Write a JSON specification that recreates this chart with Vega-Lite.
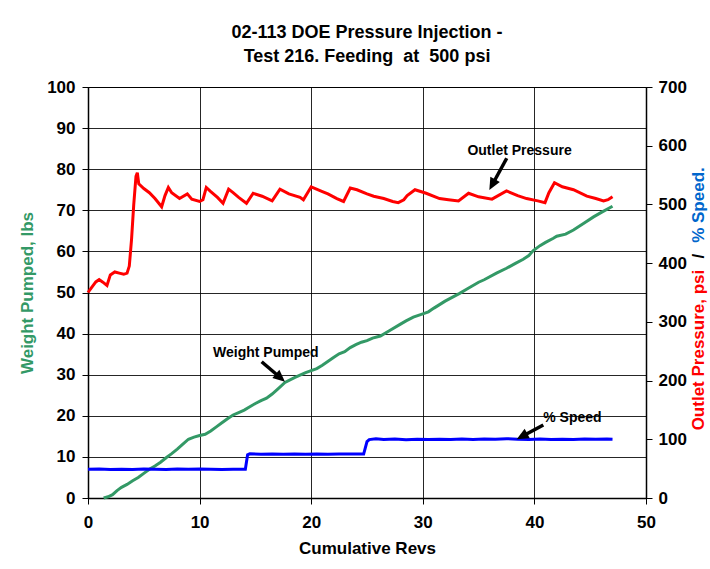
{
  "$schema": "https://vega.github.io/schema/vega-lite/v6.json",
  "width": 558,
  "height": 411,
  "autosize": {"type": "none"},
  "padding": {"left": 88, "top": 87, "right": 64, "bottom": 71},
  "background": "white",
  "config": {
    "font": "Liberation Sans",
    "view": {"stroke": "black", "strokeWidth": 1},
    "axis": {
      "labelFont": "Liberation Sans", "labelFontSize": 17, "labelFontWeight": "bold", "labelColor": "black",
      "titleFont": "Liberation Sans", "titleFontSize": 17, "titleFontWeight": "bold", "titleColor": "black",
      "domainColor": "black", "tickColor": "black", "gridColor": "black", "gridWidth": 1, "gridOpacity": 0.85,
      "tickSize": 6, "labelFlush": false, "labelOverlap": false
    }
  },
  "title": {
    "text": ["02-113 DOE Pressure Injection -", "Test 216. Feeding\u00a0\u00a0at\u00a0\u00a0500 psi"],
    "font": "Liberation Sans", "fontSize": 18, "fontWeight": "bold", "color": "black",
    "anchor": "middle", "lineHeight": 24, "offset": 12
  },
  "datasets": {
    "weight": [
      {"rev": 1.4, "lbs": 0}, {"rev": 1.8, "lbs": 0.3}, {"rev": 2.2, "lbs": 0.8}, {"rev": 2.6, "lbs": 1.8},
      {"rev": 3.0, "lbs": 2.6}, {"rev": 3.5, "lbs": 3.3}, {"rev": 4.0, "lbs": 4.2}, {"rev": 4.5, "lbs": 5.0},
      {"rev": 5.0, "lbs": 6.0}, {"rev": 5.5, "lbs": 7.0}, {"rev": 6.0, "lbs": 7.8}, {"rev": 6.5, "lbs": 8.7},
      {"rev": 7.0, "lbs": 9.8}, {"rev": 7.5, "lbs": 10.8}, {"rev": 8.0, "lbs": 11.9}, {"rev": 8.5, "lbs": 13.1},
      {"rev": 9.0, "lbs": 14.3}, {"rev": 9.5, "lbs": 14.8}, {"rev": 10.0, "lbs": 15.2}, {"rev": 10.5, "lbs": 15.5},
      {"rev": 11.0, "lbs": 16.3}, {"rev": 11.5, "lbs": 17.3}, {"rev": 12.0, "lbs": 18.3}, {"rev": 12.5, "lbs": 19.3},
      {"rev": 13.0, "lbs": 20.2}, {"rev": 13.5, "lbs": 20.8}, {"rev": 14.0, "lbs": 21.4}, {"rev": 14.5, "lbs": 22.2},
      {"rev": 15.0, "lbs": 23.0}, {"rev": 15.5, "lbs": 23.7}, {"rev": 16.0, "lbs": 24.3}, {"rev": 16.5, "lbs": 25.3},
      {"rev": 17.0, "lbs": 26.5}, {"rev": 17.65, "lbs": 28.1}, {"rev": 18.5, "lbs": 29.3}, {"rev": 19.0, "lbs": 29.9},
      {"rev": 19.5, "lbs": 30.5}, {"rev": 20.0, "lbs": 31.0}, {"rev": 20.5, "lbs": 31.5}, {"rev": 21.0, "lbs": 32.3},
      {"rev": 22.0, "lbs": 34.2}, {"rev": 22.5, "lbs": 35.1}, {"rev": 23.0, "lbs": 35.6}, {"rev": 23.5, "lbs": 36.6},
      {"rev": 24.0, "lbs": 37.3}, {"rev": 24.5, "lbs": 37.9}, {"rev": 25.0, "lbs": 38.3}, {"rev": 25.5, "lbs": 38.9},
      {"rev": 26.2, "lbs": 39.4}, {"rev": 27.0, "lbs": 40.7}, {"rev": 28.0, "lbs": 42.3}, {"rev": 28.5, "lbs": 43.1},
      {"rev": 29.15, "lbs": 44.0}, {"rev": 30.0, "lbs": 44.8}, {"rev": 30.5, "lbs": 45.3}, {"rev": 31.0, "lbs": 46.2},
      {"rev": 32.0, "lbs": 47.9}, {"rev": 33.3, "lbs": 49.8}, {"rev": 34.0, "lbs": 50.9}, {"rev": 35.0, "lbs": 52.5},
      {"rev": 35.5, "lbs": 53.1}, {"rev": 36.6, "lbs": 54.7}, {"rev": 37.5, "lbs": 55.9}, {"rev": 38.3, "lbs": 57.1},
      {"rev": 39.0, "lbs": 58.1}, {"rev": 39.5, "lbs": 59.0}, {"rev": 39.9, "lbs": 60.2}, {"rev": 40.5, "lbs": 61.4},
      {"rev": 41.0, "lbs": 62.2}, {"rev": 41.7, "lbs": 63.2}, {"rev": 42.0, "lbs": 63.7}, {"rev": 42.8, "lbs": 64.2},
      {"rev": 43.5, "lbs": 65.2}, {"rev": 44.5, "lbs": 67.0}, {"rev": 45.3, "lbs": 68.4}, {"rev": 46.0, "lbs": 69.5},
      {"rev": 47.0, "lbs": 71.0}
    ],
    "pressure": [
      {"rev": 0, "psi": 350}, {"rev": 0.3, "psi": 358}, {"rev": 0.7, "psi": 368}, {"rev": 1.0, "psi": 372},
      {"rev": 1.3, "psi": 368}, {"rev": 1.7, "psi": 362}, {"rev": 2.0, "psi": 380}, {"rev": 2.4, "psi": 385},
      {"rev": 2.8, "psi": 383}, {"rev": 3.2, "psi": 381}, {"rev": 3.5, "psi": 383}, {"rev": 3.7, "psi": 395},
      {"rev": 3.9, "psi": 440}, {"rev": 4.1, "psi": 500}, {"rev": 4.3, "psi": 548}, {"rev": 4.42, "psi": 554},
      {"rev": 4.55, "psi": 535}, {"rev": 5.0, "psi": 527}, {"rev": 5.5, "psi": 520}, {"rev": 6.0, "psi": 510},
      {"rev": 6.6, "psi": 496}, {"rev": 6.9, "psi": 515}, {"rev": 7.2, "psi": 529}, {"rev": 7.5, "psi": 520},
      {"rev": 8.2, "psi": 510}, {"rev": 8.9, "psi": 518}, {"rev": 9.3, "psi": 509}, {"rev": 10.0, "psi": 505},
      {"rev": 10.3, "psi": 508}, {"rev": 10.6, "psi": 529}, {"rev": 11.0, "psi": 522}, {"rev": 11.6, "psi": 512},
      {"rev": 12.1, "psi": 502}, {"rev": 12.6, "psi": 526}, {"rev": 13.0, "psi": 520}, {"rev": 13.5, "psi": 512},
      {"rev": 14.2, "psi": 502}, {"rev": 14.8, "psi": 519}, {"rev": 15.6, "psi": 514}, {"rev": 16.5, "psi": 506},
      {"rev": 17.2, "psi": 526}, {"rev": 18.0, "psi": 518}, {"rev": 19.0, "psi": 512}, {"rev": 19.3, "psi": 508},
      {"rev": 20.0, "psi": 530}, {"rev": 21.0, "psi": 522}, {"rev": 21.5, "psi": 518}, {"rev": 22.3, "psi": 510},
      {"rev": 22.9, "psi": 505}, {"rev": 23.5, "psi": 528}, {"rev": 24.1, "psi": 525}, {"rev": 25.0, "psi": 518},
      {"rev": 25.6, "psi": 514}, {"rev": 26.5, "psi": 510}, {"rev": 27.3, "psi": 505}, {"rev": 27.8, "psi": 503},
      {"rev": 28.3, "psi": 508}, {"rev": 28.6, "psi": 515}, {"rev": 29.3, "psi": 525}, {"rev": 30.3, "psi": 519},
      {"rev": 31.5, "psi": 510}, {"rev": 32.3, "psi": 508}, {"rev": 33.2, "psi": 506}, {"rev": 34.1, "psi": 519},
      {"rev": 35.0, "psi": 513}, {"rev": 36.2, "psi": 509}, {"rev": 37.5, "psi": 523}, {"rev": 38.5, "psi": 515},
      {"rev": 39.3, "psi": 510}, {"rev": 40.3, "psi": 506}, {"rev": 40.95, "psi": 503}, {"rev": 41.3, "psi": 520},
      {"rev": 41.8, "psi": 537}, {"rev": 42.5, "psi": 530}, {"rev": 43.5, "psi": 525}, {"rev": 44.7, "psi": 514},
      {"rev": 45.5, "psi": 510}, {"rev": 46.2, "psi": 506}, {"rev": 46.6, "psi": 508}, {"rev": 47.0, "psi": 513}
    ],
    "speed": [
      {"rev": 0, "psi": 48.8}, {"rev": 1, "psi": 49.3}, {"rev": 2, "psi": 48.6}, {"rev": 3, "psi": 49.1},
      {"rev": 4, "psi": 48.7}, {"rev": 5, "psi": 49.2}, {"rev": 6, "psi": 48.9}, {"rev": 7, "psi": 48.5},
      {"rev": 8, "psi": 49.3}, {"rev": 9, "psi": 48.8}, {"rev": 10, "psi": 49.4}, {"rev": 11, "psi": 48.9},
      {"rev": 12, "psi": 48.6}, {"rev": 13, "psi": 49.0}, {"rev": 14.1, "psi": 48.8}, {"rev": 14.3, "psi": 73.5},
      {"rev": 14.5, "psi": 75.2}, {"rev": 15.5, "psi": 74.6}, {"rev": 16.5, "psi": 75.0}, {"rev": 17.5, "psi": 74.5},
      {"rev": 18.5, "psi": 75.1}, {"rev": 19.5, "psi": 74.7}, {"rev": 20.5, "psi": 74.9}, {"rev": 21.5, "psi": 74.6},
      {"rev": 22.5, "psi": 75.0}, {"rev": 23.5, "psi": 74.8}, {"rev": 24.7, "psi": 74.8}, {"rev": 25.0, "psi": 96},
      {"rev": 25.2, "psi": 99.5}, {"rev": 25.8, "psi": 100.8}, {"rev": 26.5, "psi": 99.6}, {"rev": 27.5, "psi": 100.3},
      {"rev": 28.5, "psi": 99.4}, {"rev": 29.5, "psi": 100.0}, {"rev": 30.5, "psi": 99.5}, {"rev": 31.5, "psi": 100.2},
      {"rev": 32.5, "psi": 99.8}, {"rev": 33.5, "psi": 100.4}, {"rev": 34.5, "psi": 99.7}, {"rev": 35.5, "psi": 100.5},
      {"rev": 36.5, "psi": 99.9}, {"rev": 37.5, "psi": 101.0}, {"rev": 38.5, "psi": 100.1}, {"rev": 39.5, "psi": 99.8},
      {"rev": 40.5, "psi": 100.4}, {"rev": 41.5, "psi": 99.6}, {"rev": 42.5, "psi": 100.2}, {"rev": 43.5, "psi": 99.7},
      {"rev": 44.5, "psi": 100.5}, {"rev": 45.5, "psi": 99.9}, {"rev": 46.5, "psi": 100.3}, {"rev": 47.0, "psi": 100.0}
    ]
  },
  "encoding": {
    "x": {
      "field": "rev", "type": "quantitative",
      "scale": {"domain": [0, 50], "nice": false},
      "axis": {"values": [0, 10, 20, 30, 40, 50], "grid": true, "title": "Cumulative Revs", "labelPadding": 10, "titlePadding": 10, "domainWidth": 1.5}
    }
  },
  "layer": [
    {
      "encoding": {
        "y": {
          "field": "lbs", "type": "quantitative",
          "scale": {"domain": [0, 100], "nice": false},
          "axis": {"orient": "left", "values": [0, 10, 20, 30, 40, 50, 60, 70, 80, 90, 100], "grid": true, "title": "Weight Pumped, lbs", "titleColor": "#339966", "labelPadding": 7, "titlePadding": 10, "domainWidth": 1.5}
        }
      },
      "layer": [
        {
          "data": {"name": "weight"},
          "mark": {"type": "line", "color": "#339966", "strokeWidth": 3}
        },
        {
          "data": {"values": [{"rev": 15.93, "lbs": 35.2, "label": "Weight Pumped"}]},
          "mark": {"type": "text", "font": "Liberation Sans", "fontSize": 14, "fontWeight": "bold", "color": "black", "baseline": "middle", "align": "center"},
          "encoding": {"text": {"field": "label"}}
        },
        {
          "data": {"values": [{"rev": 15.56, "lbs": 33.16, "rev2": 17.11, "lbs2": 29.56}]},
          "mark": {"type": "rule", "color": "black", "strokeWidth": 3.5},
          "encoding": {"x2": {"field": "rev2"}, "y2": {"field": "lbs2"}}
        },
        {
          "data": {"values": [{"rev": 17.65, "lbs": 28.3, "dir": 130.6}]},
          "mark": {"type": "point", "shape": "M0,0L0.45,1L-0.45,1Z", "filled": true, "color": "black", "opacity": 1, "size": 576},
          "encoding": {"angle": {"field": "dir", "type": "quantitative", "scale": null}}
        }
      ]
    },
    {
      "encoding": {
        "y": {
          "field": "psi", "type": "quantitative",
          "scale": {"domain": [0, 700], "nice": false},
          "axis": {"orient": "right", "values": [0, 100, 200, 300, 400, 500, 600, 700], "grid": false, "title": null, "labelPadding": 6, "domainWidth": 1.5}
        }
      },
      "layer": [
        {
          "data": {"name": "pressure"},
          "mark": {"type": "line", "color": "#ff0000", "strokeWidth": 3}
        },
        {
          "data": {"name": "speed"},
          "mark": {"type": "line", "color": "#0000ff", "strokeWidth": 3}
        },
        {
          "data": {"values": [{"rev": 38.67, "psi": 591, "label": "Outlet Pressure"}, {"rev": 43.41, "psi": 135.8, "label": "% Speed"}]},
          "mark": {"type": "text", "font": "Liberation Sans", "fontSize": 14, "fontWeight": "bold", "color": "black", "baseline": "middle", "align": "center"},
          "encoding": {"text": {"field": "label"}}
        },
        {
          "data": {"values": [{"rev": 37.52, "psi": 578.6, "rev2": 36.31, "psi2": 536.5}, {"rev": 40.8, "psi": 124.3, "rev2": 39.04, "psi2": 106.5}]},
          "mark": {"type": "rule", "color": "black", "strokeWidth": 3.5},
          "encoding": {"x2": {"field": "rev2"}, "y2": {"field": "psi2"}}
        },
        {
          "data": {"values": [{"rev": 35.96, "psi": 524.6, "dir": 208.8}, {"rev": 38.41, "psi": 100.0, "dir": 241.7}]},
          "mark": {"type": "point", "shape": "M0,0L0.45,1L-0.45,1Z", "filled": true, "color": "black", "opacity": 1, "size": 576},
          "encoding": {"angle": {"field": "dir", "type": "quantitative", "scale": null}}
        },
        {
          "data": {"values": [{"rev": 54.75, "psi": 252, "label": "Outlet Pressure, psi"}]},
          "mark": {"type": "text", "font": "Liberation Sans", "fontSize": 17, "fontWeight": "bold", "color": "#ff0000", "angle": 270, "baseline": "middle", "align": "center"},
          "encoding": {"text": {"field": "label"}}
        },
        {
          "data": {"values": [{"rev": 54.75, "psi": 412, "label": "/"}]},
          "mark": {"type": "text", "font": "Liberation Sans", "fontSize": 17, "fontWeight": "bold", "color": "black", "angle": 270, "baseline": "middle", "align": "center"},
          "encoding": {"text": {"field": "label"}}
        },
        {
          "data": {"values": [{"rev": 54.75, "psi": 499, "label": "% Speed."}]},
          "mark": {"type": "text", "font": "Liberation Sans", "fontSize": 17, "fontWeight": "bold", "color": "#0066cc", "angle": 270, "baseline": "middle", "align": "center"},
          "encoding": {"text": {"field": "label"}}
        }
      ]
    }
  ],
  "resolve": {"scale": {"y": "independent"}}
}
